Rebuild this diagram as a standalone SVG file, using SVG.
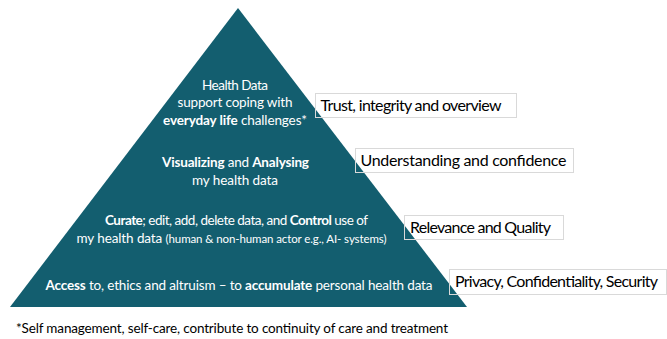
<svg xmlns="http://www.w3.org/2000/svg" width="667" height="339" viewBox="0 0 667 339">
<style>
text{font-family:Lato,"Open Sans","Liberation Sans",sans-serif}
.in{fill:#ffffff;font-size:13.5px;text-anchor:middle}
.b{font-weight:bold}
.sm{font-size:11.5px}
.lb{fill:#000000;font-size:16px}
.bf{fill:#ffffff;stroke:none}
.bs{fill:none;stroke:#d9d9d9;stroke-width:1}
.fn{fill:#000000;font-size:13.5px}
</style>
<g id="box-fills">
<rect class="bf" x="315.5" y="93.5" width="201" height="24"/>
<rect class="bf" x="355.5" y="148.5" width="218" height="24"/>
<rect class="bf" x="404.5" y="215.5" width="159" height="24"/>
<rect class="bf" x="449.5" y="269.5" width="217" height="25"/>
</g>
<g id="pyramid">
<polygon points="238,8 467,307 10,307" fill="#135e6f"/>
<text class="in" x="235" y="90" textLength="66">Health Data</text>
<text class="in" x="235" y="107" textLength="115">support coping with</text>
<text class="in" x="235" y="125" textLength="144"><tspan class="b">everyday life</tspan> challenges*</text>
<text class="in" x="235.5" y="167" textLength="147"><tspan class="b">Visualizing</tspan> and <tspan class="b">Analysing</tspan></text>
<text class="in" x="235" y="185" textLength="86">my health data</text>
<text class="in" x="236.5" y="225" textLength="263"><tspan class="b">Curate</tspan>; edit, add, delete data, and <tspan class="b">Control</tspan> use of</text>
<text class="in" x="231.5" y="242.5" textLength="310">my health data <tspan class="sm">(human &amp; non-human actor e.g., AI- systems)</tspan></text>
<text class="in" x="239" y="290" textLength="387"><tspan class="b">Access</tspan> to, ethics and altruism – to <tspan class="b">accumulate</tspan> personal health data</text>
</g>
<g id="label-trust">
<rect class="bs" x="315.5" y="93.5" width="201" height="24"/>
<text class="lb" x="320.5" y="110.5" textLength="181">Trust, integrity and overview</text>
</g>
<g id="label-understanding">
<rect class="bs" x="355.5" y="148.5" width="218" height="24"/>
<text class="lb" x="360.5" y="166" textLength="206">Understanding and confidence</text>
</g>
<g id="label-relevance">
<rect class="bs" x="404.5" y="215.5" width="159" height="24"/>
<text class="lb" x="410" y="233" textLength="141">Relevance and Quality</text>
</g>
<g id="label-privacy">
<rect class="bs" x="449.5" y="269.5" width="217" height="25"/>
<text class="lb" x="455" y="287" textLength="203">Privacy, Confidentiality, Security</text>
</g>
<g id="connectors"/>
<g id="footnote">
<text class="fn" x="16" y="333" textLength="432">*Self management, self-care, contribute to continuity of care and treatment</text>
</g>
</svg>
